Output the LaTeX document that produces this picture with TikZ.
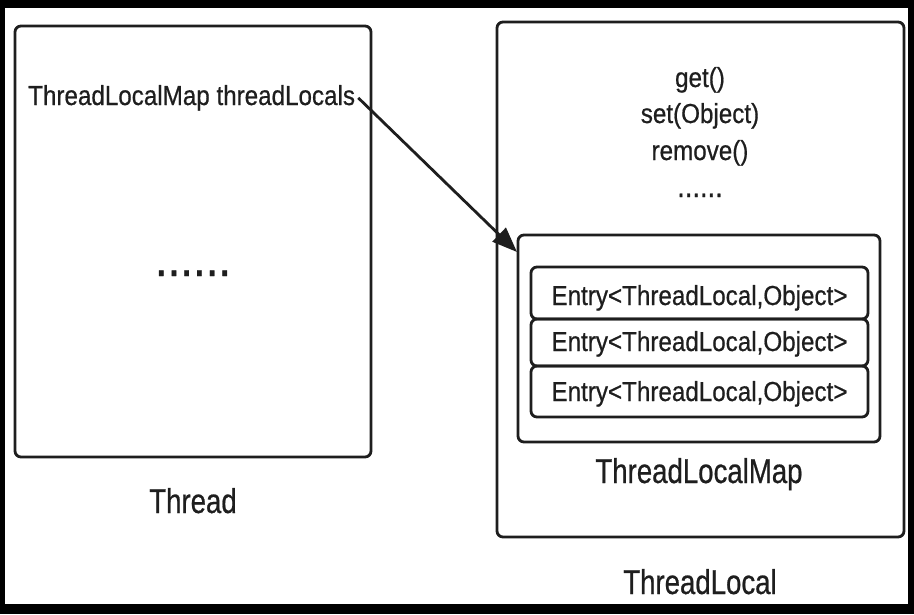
\documentclass[tikz,border=0pt]{standalone}
\usepackage{fontspec}
\setmainfont{Liberation Sans}[FakeStretch=0.88,FakeBold=0.6]
\newfontfamily\labfont{Liberation Sans}[FakeStretch=0.8,FakeBold=0.6]
\usetikzlibrary{arrows.meta}
\definecolor{ink}{HTML}{1E1E1E}
\tikzset{
  box/.style={draw=ink, line width=2.8pt, rounded corners=6pt, inner sep=0pt},
  txt/.style={inner sep=0pt, text=ink, font=\fontsize{27.5}{27.5}\selectfont, anchor=base},
  lab/.style={inner sep=0pt, text=ink, font=\labfont\fontsize{34.5}{34.5}\selectfont, anchor=base},
  conn/.style={draw=ink, line width=2.8pt, -{Triangle[length=25pt,width=19pt]}},
}
\begin{document}
\begin{tikzpicture}[x=1pt,y=-1pt]
\fill[black] (0,0) rectangle (914,614);
\fill[white] (5,8) rectangle (908,604);
\useasboundingbox (0,0) rectangle (914,614);
% boxes
\node[box, minimum width=356pt, minimum height=431pt] (thread) at (193,241.5) {};
\node[box, minimum width=407pt, minimum height=515pt] (tlocal) at (700.5,279.5) {};
\node[box, minimum width=362pt, minimum height=207pt] (map) at (699,338.5) {};
\node[box, minimum width=337pt, minimum height=52pt] (e1) at (699.5,293) {};
\node[box, minimum width=337pt, minimum height=47pt] (e2) at (699.5,342.5) {};
\node[box, minimum width=337pt, minimum height=51pt] (e3) at (699.5,391.5) {};
% texts
\node[txt, anchor=base west] (tl) at (28,105) {ThreadLocalMap threadLocals};
\node[txt, font=\fontsize{52}{52}\selectfont] (tdots) at (193,276) {......};
\node[lab] (threadlab) at (193,513) {Thread};
\node[txt] (get) at (700,87) {get()};
\node[txt] (set) at (700,123) {set(Object)};
\node[txt] (rem) at (700,160) {remove()};
\node[txt, font=\fontsize{31}{31}\selectfont] (rdots) at (700,197) {......};
\node[txt] (t1) at (699.5,305) {Entry<ThreadLocal,Object>};
\node[txt] (t2) at (699.5,351) {Entry<ThreadLocal,Object>};
\node[txt] (t3) at (699.5,401) {Entry<ThreadLocal,Object>};
\node[lab] (maplab) at (699,483) {ThreadLocalMap};
\node[lab] (tlocallab) at (700,594) {ThreadLocal};
% connector
\coordinate (tip) at (517,252);
\draw[conn] ([xshift=3pt]tl.east) -- (tip);
\end{tikzpicture}
\end{document}
